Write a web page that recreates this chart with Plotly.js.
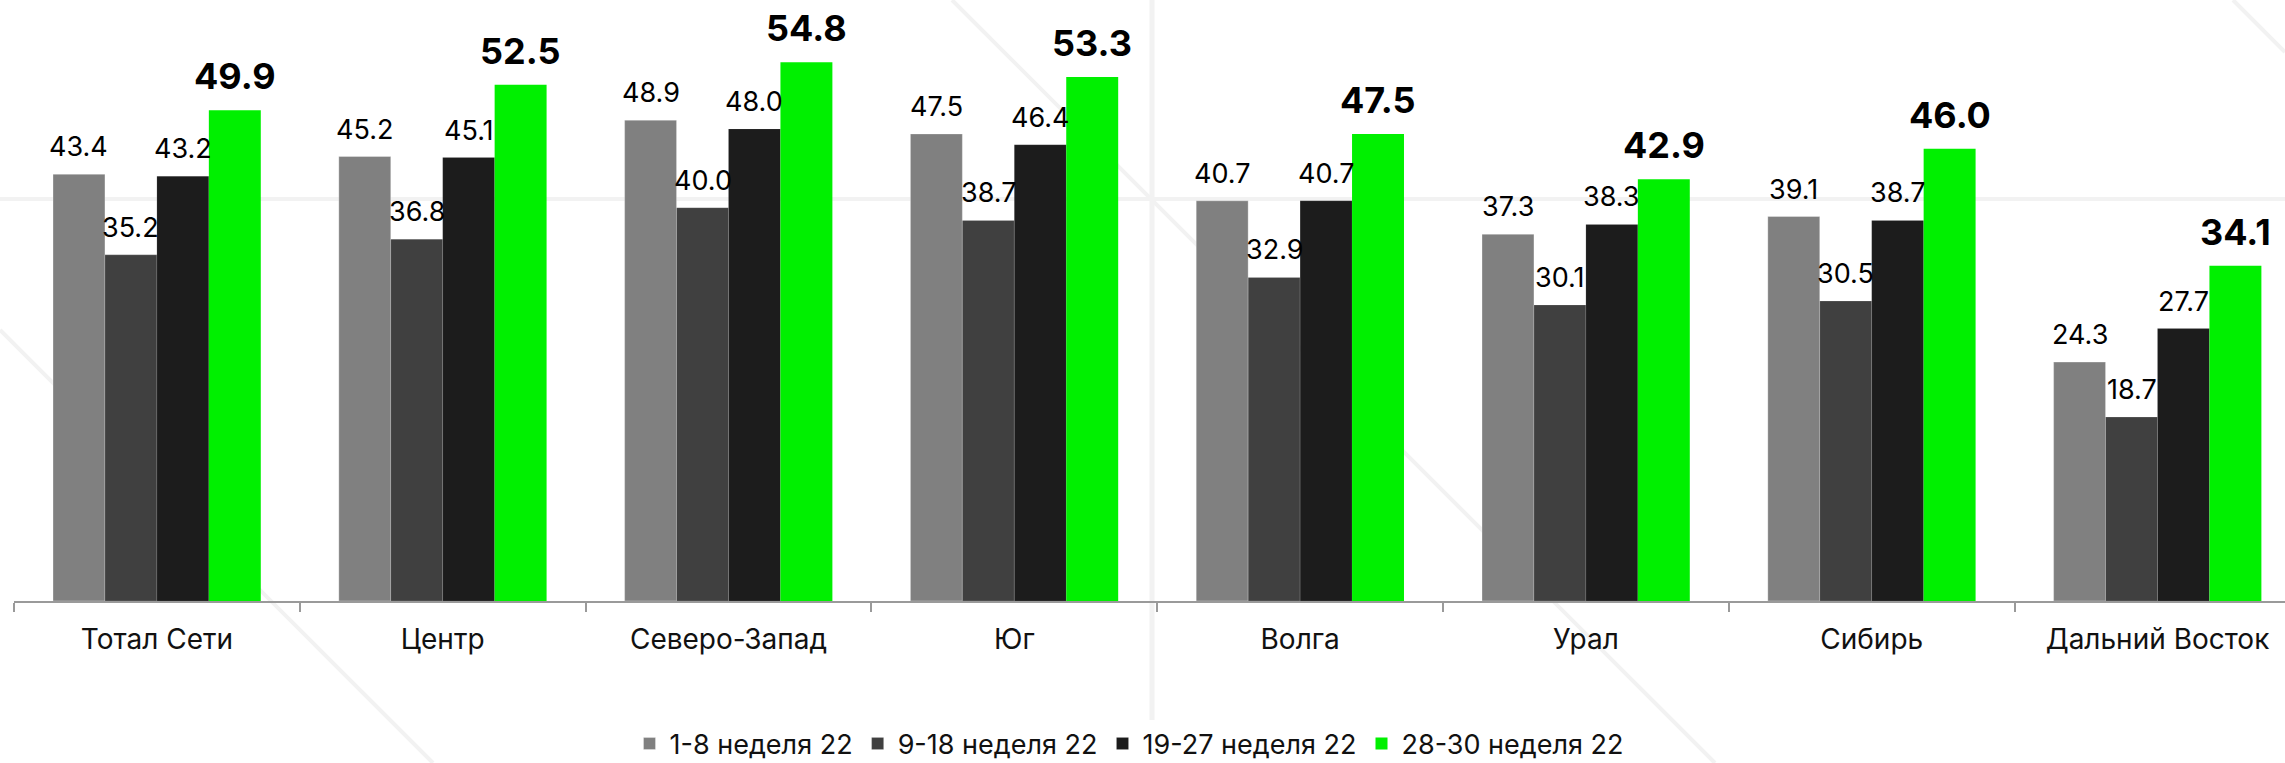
<!DOCTYPE html>
<html>
<head>
<meta charset="utf-8">
<script src="https://cdn.plot.ly/plotly-3.0.1.min.js"></script>
<style>html,body{margin:0;padding:0;background:#fff;}#chart{width:2285px;height:763px;}</style>
</head>
<body>
<div id="chart"></div>
<script>
const categories = ['Тотал Сети', 'Центр', 'Северо-Запад', 'Юг', 'Волга', 'Урал', 'Сибирь', 'Дальний Восток'];
const seriesNames = ['1-8 неделя 22', '9-18 неделя 22', '19-27 неделя 22', '28-30 неделя 22'];
const weeks1_8   = [43.4, 45.2, 48.9, 47.5, 40.7, 37.3, 39.1, 24.3];
const weeks9_18  = [35.2, 36.8, 40.0, 38.7, 32.9, 30.1, 30.5, 18.7];
const weeks19_27 = [43.2, 45.1, 48.0, 46.4, 40.7, 38.3, 38.7, 27.7];
const weeks28_30 = [49.9, 52.5, 54.8, 53.3, 47.5, 42.9, 46.0, 34.1];

const series = [weeks1_8, weeks9_18, weeks19_27, weeks28_30];
const colors = ['#808080', '#404040', '#1c1c1c', '#00f000'];
const lineColors = ['rgba(255,255,255,0.3)', 'rgba(255,255,255,0.15)', 'rgba(255,255,255,0.1)', 'rgba(0,0,0,0)'];
const FONT = 'Inter, "Open Sans", sans-serif';

const W = 2285, H = 763;
const M = {l: 14, r: 0, t: 11, b: 162, autoexpand: false};
const bargap = 0.273;
const pw = W - M.l - M.r, ph = H - M.t - M.b;

const traces = series.map((vals, i) => ({
  type: 'bar',
  name: seriesNames[i],
  x: categories,
  y: vals,
  marker: {color: colors[i], line: {color: lineColors[i], width: 1}},
  hoverinfo: 'skip'
}));

const barFrac = (1 - bargap) / series.length;
const annotations = [];
series.forEach((vals, i) => {
  const bold = i === 3;
  vals.forEach((v, j) => {
    annotations.push({
      xref: 'x', yref: 'y',
      x: j + (i - (series.length - 1) / 2) * barFrac,
      y: v,
      text: bold ? '<b>' + v.toFixed(1) + '</b>' : v.toFixed(1),
      showarrow: false,
      xanchor: 'center', yanchor: 'bottom',
      yshift: bold ? 10 : 9,
      font: {family: FONT, size: bold ? 36 : 27, color: '#000'}
    });
  });
});

// faint background decoration lines (pixel coords converted to paper)
function px2p(x, y) { return [(x - M.l) / pw, (H - M.b - y) / ph]; }
const deco = [
  [0, 199, 2285, 199, 4],
  [1152, 0, 1152, 763, 5],
  [952, 0, 1715, 763, 4],
  [0, 330, 433, 763, 4],
  [2233, 0, 2285, 52, 4]
];
const shapes = deco.map(d => {
  const a = px2p(d[0], d[1]), b = px2p(d[2], d[3]);
  return {type: 'line', xref: 'paper', yref: 'paper', x0: a[0], y0: a[1], x1: b[0], y1: b[1],
          line: {color: '#f2f2f2', width: d[4]}, layer: 'below'};
});

const catPx = 285.8;
const layout = {
  width: W, height: H,
  margin: M,
  paper_bgcolor: '#ffffff',
  plot_bgcolor: 'rgba(0,0,0,0)',
  barmode: 'group',
  bargap: bargap,
  bargroupgap: 0,
  showlegend: true,
  legend: {
    orientation: 'h',
    x: (1129.5 - M.l) / pw, xanchor: 'center',
    y: (H - M.b - 744) / ph, yanchor: 'middle',
    font: {family: FONT, size: 27, color: '#111'},
    itemclick: false, itemdoubleclick: false,
    traceorder: 'normal'
  },
  xaxis: {
    type: 'category',
    range: [-0.5, -0.5 + pw / catPx],
    tickson: 'boundaries',
    ticks: 'outside', ticklen: 9, tickwidth: 2, tickcolor: '#9a9a9a',
    ticklabelstandoff: 12,
    showline: true, linecolor: '#9a9a9a', linewidth: 2,
    showgrid: false, zeroline: false,
    tickfont: {family: FONT, size: 28, color: '#111'},
    fixedrange: true
  },
  yaxis: {
    range: [0, 60],
    visible: false,
    showgrid: false, zeroline: false,
    fixedrange: true
  },
  annotations: annotations,
  shapes: shapes,
  hovermode: false
};

Plotly.newPlot('chart', traces, layout, {displayModeBar: false, staticPlot: true});
</script>
</body>
</html>
